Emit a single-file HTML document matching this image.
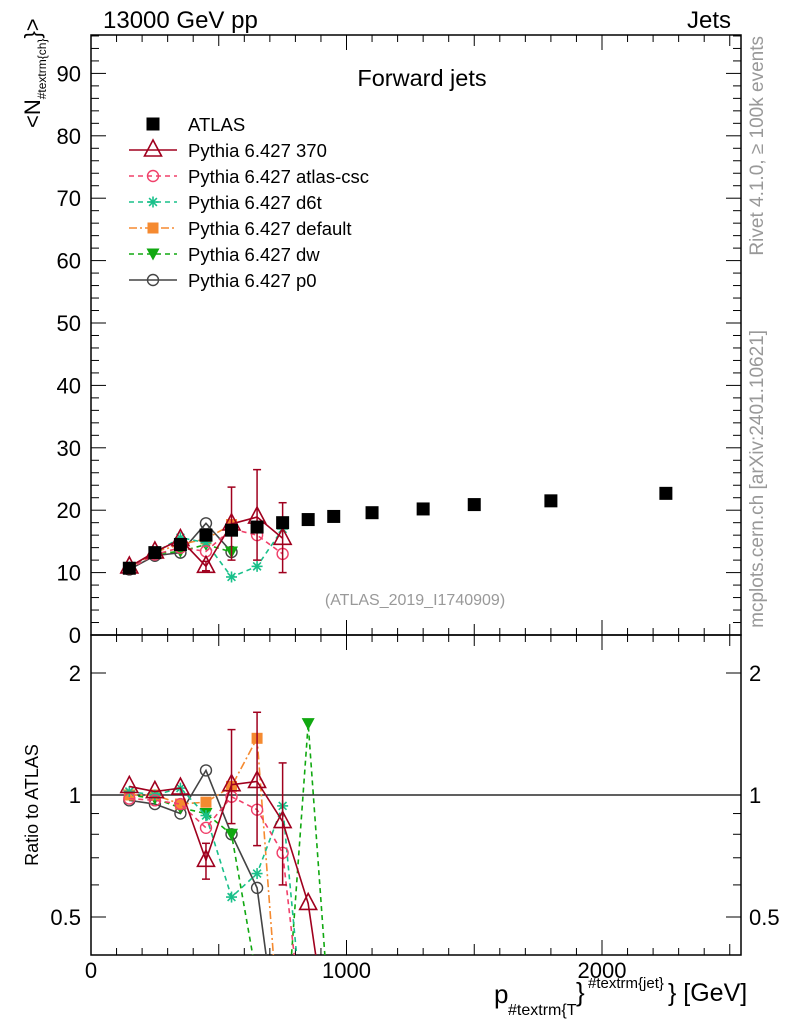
<!DOCTYPE html>
<html><head><meta charset="utf-8"><style>
html,body{margin:0;padding:0;background:#fff;overflow:hidden}
svg{display:block;font-family:"Liberation Sans",sans-serif}
</style></head><body>
<svg id="c" width="786" height="1024" viewBox="0 0 786 1024"></svg>
<script>
const xs = [150,250,350,450,550,650,750,850,950,1100,1300,1500,1800,2250];
const atlas = [10.7,13.2,14.5,16.0,16.8,17.3,18.0,18.5,19.0,19.6,20.2,20.9,21.5,22.7];
const mc370 = [10.9,13.3,15.3,11.0,17.8,18.9,15.5];
const mc370Lo = [null,null,null,10.3,12.0,12.0,10.0];
const mc370Hi = [null,null,null,11.8,23.7,26.5,21.2];
const mcCsc = [10.6,12.9,14.0,13.4,17.0,16.0,13.0];
const mcD6t = [10.9,13.2,15.6,14.8,9.3,11.0,17.0];
const mcDef = [10.7,13.3,14.5,15.4,17.7];
const mcDw = [10.6,13.0,13.4,14.5,13.3];
const mcP0 = [10.5,12.7,13.2,17.9,13.3];
const r370 = [1.05,1.02,1.04,0.69,1.06,1.08,0.86,0.54,0.2];
const r370Lo = [null,null,null,0.62,0.85,0.75,0.6,null,null];
const r370Hi = [null,null,null,0.76,1.45,1.6,1.2,null,null];
const rCsc = [0.98,0.97,0.95,0.83,0.99,0.92,0.72,0.2];
const rD6t = [1.02,1.0,1.04,0.89,0.56,0.64,0.94,0.2];
const rDef = [1.0,1.0,0.95,0.96,1.05,1.38,0.2];
const rDw = [1.0,0.98,0.93,0.90,0.80,0.35,0.2,1.5,0.2];
const rP0 = [0.97,0.95,0.90,1.15,0.80,0.59,0.2];
const yTicks = [0,10,20,30,40,50,60,70,80,90];
const rTicks = [0.5,1,2];
const xTicks = [0,1000,2000];

const svg=document.getElementById('c');const NS='http://www.w3.org/2000/svg';
const L=91,R=741,T=35,M=635,B=955;
const X=v=>L+v*0.2555;
const Y=v=>M-v*6.24;
const RY=v=>795-122*Math.log2(v);
function el(t,a,p){const e=document.createElementNS(NS,t);for(const k in a)e.setAttribute(k,a[k]);(p||svg).appendChild(e);return e;}
function txt(s,a,p){const e=el('text',a,p);e.textContent=s;return e;}
const defs=el('defs',{});
const c1=el('clipPath',{id:'cm'},defs);el('rect',{x:L,y:T,width:R-L,height:M-T},c1);
const c2=el('clipPath',{id:'cr'},defs);el('rect',{x:L,y:M,width:R-L,height:B-M},c2);

let f=el('rect',{x:L,y:T,width:R-L,height:M-T,fill:'none',stroke:'#000','stroke-width':1.5});

f=el('rect',{x:L,y:M,width:R-L,height:B-M,fill:'none',stroke:'#000','stroke-width':1.5});

for(let v=0;v<=96;v+=2){const y=Y(v);const len=v%10==0?15:8;
 el('line',{x1:L,x2:L+len,y1:y,y2:y,stroke:'#000'});el('line',{x1:R,x2:R-len,y1:y,y2:y,stroke:'#000'});}
yTicks.forEach(v=>{const t=txt(String(v),{x:L-10,y:Y(v)+8,'text-anchor':'end','font-size':22});
 });
[0.5,0.6,0.7,0.8,0.9,1,2].forEach(v=>{const y=RY(v);const len=(v==0.5||v==1||v==2)?15:8;
 el('line',{x1:L,x2:L+len,y1:y,y2:y,stroke:'#000'});el('line',{x1:R,x2:R-len,y1:y,y2:y,stroke:'#000'});});
rTicks.forEach(v=>{let t=txt(String(v),{x:L-10,y:RY(v)+8,'text-anchor':'end','font-size':22});
 
 t=txt(String(v),{x:R+8,y:RY(v)+8,'font-size':22});
 });
for(let v=0;v<=2540;v+=100){const x=X(v);const len=v%1000==0?15:(v%500==0?11:7);
 el('line',{x1:x,x2:x,y1:B,y2:B-len,stroke:'#000'});el('line',{x1:x,x2:x,y1:M,y2:M-len,stroke:'#000'});
 el('line',{x1:x,x2:x,y1:M,y2:M+len,stroke:'#000'});el('line',{x1:x,x2:x,y1:T,y2:T+len,stroke:'#000'});}
xTicks.forEach(v=>{const t=txt(String(v),{x:X(v),y:978,'text-anchor':'middle','font-size':22});
 });
el('line',{x1:L,x2:R,y1:RY(1),y2:RY(1),stroke:'#000','stroke-width':1.2});

function marker(g,type,x,y,col){
 if(type=='sq')el('rect',{x:x-6.5,y:y-6.5,width:13,height:13,fill:col},g);
 else if(type=='tri')el('polygon',{points:`${x},${y-10} ${x-8.5},${y+6} ${x+8.5},${y+6}`,fill:'none',stroke:col,'stroke-width':1.6},g);
 else if(type=='circ')el('circle',{cx:x,cy:y,r:5.5,fill:'none',stroke:col,'stroke-width':1.4},g);
 else if(type=='star'){for(let a=0;a<4;a++){const an=a*Math.PI/4;el('line',{x1:x-5.5*Math.cos(an),y1:y-5.5*Math.sin(an),x2:x+5.5*Math.cos(an),y2:y+5.5*Math.sin(an),stroke:col,'stroke-width':1.6},g);}}
 else if(type=='sqo')el('rect',{x:x-5.5,y:y-5.5,width:11,height:11,fill:col},g);
 else if(type=='tdn')el('polygon',{points:`${x-6.5},${y-5.5} ${x+6.5},${y-5.5} ${x},${y+6.5}`,fill:col},g);
}
const series=[
 {n:'370',col:'#a0001e',m:'tri',d:'',main:mc370,rat:r370,lo:mc370Lo,hi:mc370Hi,rlo:r370Lo,rhi:r370Hi},
 {n:'atlas-csc',col:'#f0406a',m:'circ',d:'5,4',main:mcCsc,rat:rCsc},
 {n:'d6t',col:'#19c08a',m:'star',d:'5,4',main:mcD6t,rat:rD6t},
 {n:'default',col:'#f58a30',m:'sqo',d:'8,3,2,3',main:mcDef,rat:rDef},
 {n:'dw',col:'#10a810',m:'tdn',d:'5,4',main:mcDw,rat:rDw},
 {n:'p0',col:'#444',m:'circ',d:'',main:mcP0,rat:rP0}];
series.slice().reverse().forEach(s=>{
 [[s.main,Y,'cm',s.lo,s.hi,'main'],[s.rat,RY,'cr',s.rlo,s.rhi,'ratio']].forEach(([arr,fy,cp,lo,hi,pn])=>{
  const g=el('g',{'clip-path':`url(#${cp})`});
  
  const pts=arr.map((v,i)=>`${X(xs[i])},${fy(v)}`).join(' ');
  el('polyline',{points:pts,fill:'none',stroke:s.col,'stroke-width':1.6,'stroke-dasharray':s.d},g);
  if(lo)lo.forEach((v,i)=>{if(v==null)return;const x=X(xs[i]);
   el('line',{x1:x,x2:x,y1:fy(v),y2:fy(hi[i]),stroke:s.col,'stroke-width':1.5},g);
   el('line',{x1:x-4,x2:x+4,y1:fy(v),y2:fy(v),stroke:s.col,'stroke-width':1.5},g);
   el('line',{x1:x-4,x2:x+4,y1:fy(hi[i]),y2:fy(hi[i]),stroke:s.col,'stroke-width':1.5},g);});
  arr.forEach((v,i)=>marker(g,s.m,X(xs[i]),fy(v),s.col));
 });
});
const ga=el('g',{'clip-path':'url(#cm)'});

atlas.forEach((v,i)=>marker(ga,'sq',X(xs[i]),Y(v),'#000'));

const leg=[['ATLAS','#000','sq','']].concat(series.map(s=>['Pythia 6.427 '+s.n,s.col,s.m,s.d]));
leg.forEach((e,i)=>{const y=124+i*26;const g=el('g',{});
 
 if(i>0)el('line',{x1:129,x2:177,y1:y,y2:y,stroke:e[1],'stroke-width':1.5,'stroke-dasharray':e[3]},g);
 marker(g,e[2],153,y,e[1]);
 txt(e[0],{x:188,y:y+7,'font-size':18.5},g);});

let t;
t=txt('13000 GeV pp',{x:103,y:28,'font-size':24});
t=txt('Jets',{x:731,y:28,'font-size':24,'text-anchor':'end'});
t=txt('Forward jets',{x:422,y:86,'font-size':23.5,'text-anchor':'middle'});
t=txt('(ATLAS_2019_I1740909)',{x:415,y:605,'font-size':16,'text-anchor':'middle',fill:'#999'});
t=txt('<N',{x:0,y:0,'font-size':22,transform:'translate(40,128) rotate(-90)'});
let ts=el('tspan',{'font-size':12,dy:6},t);ts.textContent='#textrm{ch}';
ts=el('tspan',{dy:-6,'font-size':22},t);ts.textContent='}>';
t=txt('Ratio to ATLAS',{x:0,y:0,'font-size':18,'text-anchor':'middle',transform:'translate(38,805) rotate(-90)'});
t=txt('Rivet 4.1.0, ≥ 100k events',{x:0,y:0,'font-size':19,'text-anchor':'end',fill:'#999',transform:'translate(763,36) rotate(-90)'});
t=txt('mcplots.cern.ch [arXiv:2401.10621]',{x:0,y:0,'font-size':19,'text-anchor':'end',fill:'#999',transform:'translate(763,330) rotate(-90)'});
const xt=el('g',{});
txt('p',{x:494,y:1003,'font-size':26},xt);
txt('#textrm{T',{x:508,y:1015,'font-size':16},xt);
txt('}',{x:576,y:1001,'font-size':26},xt);
txt('#textrm{jet}',{x:588,y:988,'font-size':15},xt);
txt('} [GeV]',{x:668,y:1001,'font-size':25},xt);
</script>
</body></html>
